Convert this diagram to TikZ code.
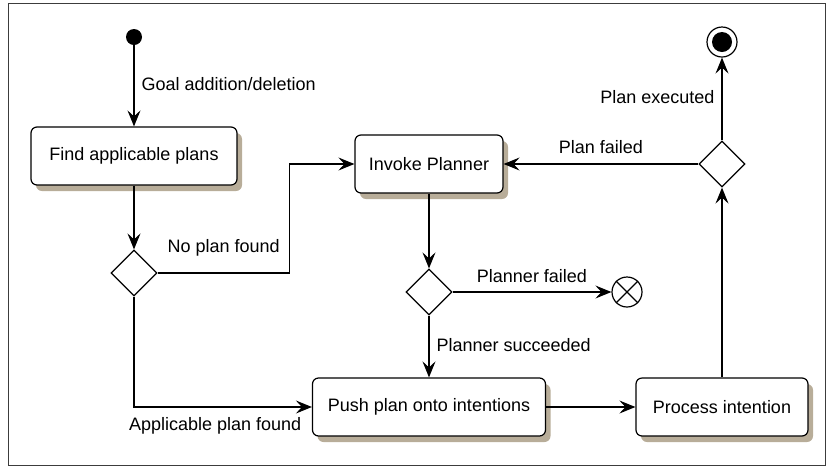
\documentclass[tikz,border=0pt]{standalone}
\usepackage{fontspec}
\setmainfont{Liberation Sans}
\usetikzlibrary{arrows.meta,positioning,shapes.geometric,shadows}
\definecolor{shade}{HTML}{B8AD99}
\definecolor{frame}{HTML}{3C3C3C}

\begin{document}
\begin{tikzpicture}[
  x=1pt,y=-1pt,
  every node/.style={font=\fontsize{18}{21}\selectfont},
  block/.style={draw,line width=1.2pt,fill=white,rounded corners=6pt,minimum height=58pt,
    drop shadow={shadow xshift=5pt,shadow yshift=-6pt,fill=shade,opacity=1}},
  choice/.style={draw,diamond,line width=1.2pt,minimum width=46pt,minimum height=46pt,inner sep=0pt,fill=white},
  initdot/.style={circle,fill=black,minimum size=16pt,inner sep=0pt},
  finaldot/.style={circle,draw,line width=1.2pt,minimum size=30pt,inner sep=0pt,
    path picture={\fill (path picture bounding box.center) circle (10pt);}},
  haltsign/.style={circle,draw,line width=1.2pt,minimum size=30pt,inner sep=0pt},
  arrow/.style={-{Stealth[length=16pt,width=13pt,inset=6pt]},line width=1.2pt},
  tag/.style={inner sep=1pt,text height=13pt,text depth=4pt}
]
\useasboundingbox (0,0) rectangle (827,467);
\draw[frame,line width=1pt] (8,3) rectangle (825.5,465);

\node[initdot] (init) at (134,37) {};
\node[block,minimum width=206pt] (find) at (134,156) {Find applicable plans};
\node[choice] (test) at (134,273) {};
\node[block,minimum width=148pt] (invoke) at (429,164) {Invoke Planner};
\node[choice] (plancheck) at (429,292) {};
\node[haltsign] (abort) at (627,292) {};
\draw[line width=1.2pt] (abort.north east) -- (abort.south west) (abort.north west) -- (abort.south east);
\node[block,minimum width=233pt] (push) at (429,407) {Push plan onto intentions};
\node[block,minimum width=172pt] (process) at (722,407) {Process intention};
\node[choice] (outcome) at (722,164) {};
\node[finaldot] (finish) at (722,42) {};

\draw[arrow] (init) -- node[tag,right=6pt] {Goal addition/deletion} (find);
\draw[arrow] (find) -- (test);
\draw[arrow] (test.east) -- node[tag,above=15pt] {No plan found} ++(132,0) |- (invoke.west);
\draw[arrow] (test.south) |- node[tag,pos=1,anchor=north east,xshift=-9pt,yshift=-9pt] {Applicable plan found} (push.west);
\draw[arrow] (invoke) -- (plancheck);
\draw[arrow] (plancheck) -- node[tag,above=4pt] {Planner failed} (abort);
\draw[arrow] (plancheck) -- node[tag,right=6pt] {Planner succeeded} (push);
\draw[arrow] (push) -- (process);
\draw[arrow] (process) -- (outcome);
\draw[arrow] (outcome) -- node[tag,above=5pt] {Plan failed} (invoke);
\draw[arrow] (outcome) -- node[tag,left=6pt] {Plan executed} (finish);
\end{tikzpicture}
\end{document}
